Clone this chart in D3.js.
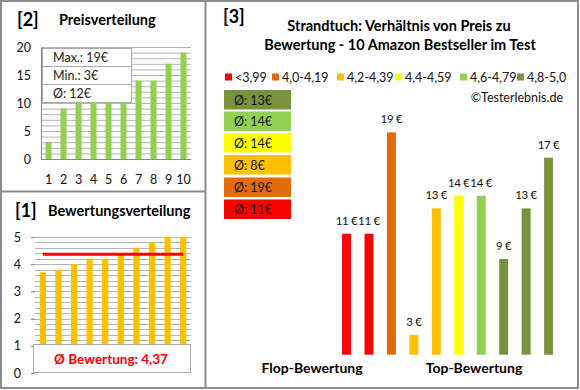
<!DOCTYPE html>
<html><head><meta charset="utf-8">
<script src="https://cdn.jsdelivr.net/npm/d3@7"></script>
<style>body{margin:0;background:#fff}svg{display:block;font-family:Lato,"Open Sans",sans-serif}</style>
</head><body><svg id="c" width="580" height="390"></svg>
<script>
// ---- data ----
const priceCats = ["1","2","3","4","5","6","7","8","9","10"];
const priceValues = [3,9,10,10,10,10,14,14,17,19];
const priceTicks = [0,5,10,15,20];
const priceInfo = ["Max.: 19€","Min.: 3€","Ø: 12€"];

const ratingCats = ["1","2","3","4","5","6","7","8","9","10"];
const ratingValues = [3.7,3.8,4.0,4.2,4.2,4.4,4.6,4.8,5.0,5.0];
const ratingTicks = [0,1,2,3,4,5];
const ratingMean = 4.37;
const ratingLabel = "Ø Bewertung: 4,37";

const mainCats = ["p1","p2","p3","p4","p5","p6","p7","p8","p9","p10"];
const mainValues = [11,11,19,3,13,14,14,9,13,17];
const mainGroups = [0,0,1,2,2,3,4,5,5,5];
const groupLabels = ["<3,99","4,0-4,19","4,2-4,39","4,4-4,59","4,6-4,79","4,8-5,0"];
const groupColors = ["#FF0000","#E36C09","#FFC000","#FFFF00","#92D050","#77933C"];
const groupAverages = ["Ø: 11€","Ø: 19€","Ø: 8€","Ø: 14€","Ø: 14€","Ø: 13€"];

const svg = d3.select("#c");
const grid = "#b4b4b4";

// ---- panel frames ----
svg.append("rect").attr("x",1).attr("y",1).attr("width",577).attr("height",387)
  .attr("fill","none").attr("stroke","#8c8c8c").attr("stroke-width",2);
svg.append("line").attr("x1",205.5).attr("x2",205.5).attr("y1",1).attr("y2",388).attr("stroke","#8c8c8c").attr("stroke-width",2);
svg.append("line").attr("x1",1).attr("x2",205).attr("y1",191.5).attr("y2",191.5).attr("stroke","#8c8c8c").attr("stroke-width",2);

// ---- panel [2] price distribution ----
svg.append("text").attr("x",17).attr("y",26).attr("font-size",18).attr("font-weight","bold").text("[2]");
svg.append("text").attr("x",59).attr("y",25).attr("font-size",14.5).attr("font-weight","bold").text("Preisverteilung");

const px = d3.scaleBand().domain(priceCats).range([41,191]).paddingInner(0.6).paddingOuter(0.3);
const py = d3.scaleLinear().domain([0,20]).range([159,47]);
const gp = svg.append("g");
gp.selectAll("line.g").data(d3.range(1,21)).join("line")
  .attr("x1",41).attr("x2",191).attr("y1",d=>py(d)+0.5).attr("y2",d=>py(d)+0.5)
  .attr("stroke",grid).attr("stroke-width",1);
gp.selectAll("rect").data(priceValues).join("rect")
  .attr("x",(d,i)=>px(priceCats[i])).attr("width",px.bandwidth())
  .attr("y",d=>py(d)).attr("height",d=>py(0)-py(d)).attr("fill","#92D050");
const pyAxis = gp.append("g").attr("transform","translate(41,0)")
  .call(d3.axisLeft(py).tickValues(priceTicks).tickSize(0).tickPadding(10));
pyAxis.select(".domain").attr("stroke","#888");
pyAxis.selectAll("text").attr("font-size",12.5).attr("font-family","Lato, sans-serif").attr("fill","#111");
const pxAxis = gp.append("g").attr("transform","translate(0,159)")
  .call(d3.axisBottom(px).tickSize(0).tickPadding(16));
pxAxis.select(".domain").attr("stroke","#888").attr("d","M41,0.5H191");
pxAxis.selectAll("text").attr("font-size",12.5).attr("font-family","Lato, sans-serif").attr("fill","#111");
// info box
const ib = gp.append("g");
ib.append("rect").attr("x",42.5).attr("y",48.5).attr("width",89).attr("height",54).attr("fill","#fff").attr("stroke","#aaa");
ib.selectAll("line").data([1,2]).join("line").attr("x1",42.5).attr("x2",131.5)
  .attr("y1",d=>48.5+d*18).attr("y2",d=>48.5+d*18).attr("stroke","#aaa");
ib.selectAll("text").data(priceInfo).join("text").attr("x",53).attr("y",(d,i)=>62+i*18)
  .attr("font-size",12.5).attr("fill","#222").text(d=>d);

// ---- panel [1] rating distribution ----
svg.append("text").attr("x",15).attr("y",217).attr("font-size",18).attr("font-weight","bold").text("[1]");
svg.append("text").attr("x",48).attr("y",216).attr("font-size",14.5).attr("font-weight","bold").text("Bewertungsverteilung");

const rx = d3.scaleBand().domain(ratingCats).range([35,191]).paddingInner(0.6).paddingOuter(0.3);
const ry = d3.scaleLinear().domain([0,5]).range([373,237]);
const gr = svg.append("g");
gr.selectAll("line.g").data(d3.range(1,26).map(d=>d/5)).join("line")
  .attr("x1",d=>Math.abs(d-Math.round(d))<1e-6?31:35).attr("x2",191)
  .attr("y1",d=>Math.round(ry(d))+0.5).attr("y2",d=>Math.round(ry(d))+0.5)
  .attr("stroke",grid).attr("stroke-width",1);
gr.selectAll("rect").data(ratingValues).join("rect")
  .attr("x",(d,i)=>rx(ratingCats[i])).attr("width",rx.bandwidth())
  .attr("y",d=>ry(d)).attr("height",d=>ry(0)-ry(d)).attr("fill","#FFC000");
const ryAxis = gr.append("g").attr("transform","translate(35,0)")
  .call(d3.axisLeft(ry).tickValues(ratingTicks).tickFormat(d3.format("d")).tickSize(4).tickPadding(10));
ryAxis.select(".domain").remove();
ryAxis.selectAll("line").attr("stroke","#888");
ryAxis.selectAll("text").attr("font-size",12.5).attr("font-family","Lato, sans-serif").attr("fill","#111");
gr.append("line").attr("x1",rx(ratingCats[0])+rx.bandwidth()/2).attr("x2",rx(ratingCats[9])+rx.bandwidth()/2)
  .attr("y1",ry(ratingMean)).attr("y2",ry(ratingMean)).attr("stroke","#FF0000").attr("stroke-width",3);
gr.append("rect").attr("x",33.5).attr("y",344.5).attr("width",157).attr("height",28).attr("fill","#fff").attr("stroke","#aaa");
gr.append("text").attr("x",111).attr("y",364).attr("text-anchor","middle").attr("font-size",13.5)
  .attr("font-weight","bold").attr("fill","#FF0000").text(ratingLabel);

// ---- panel [3] ----
svg.append("text").attr("x",223).attr("y",23).attr("font-size",18).attr("font-weight","bold").text("[3]");
svg.append("text").attr("x",399).attr("y",31).attr("text-anchor","middle").attr("font-size",14.5).attr("font-weight","bold")
  .text("Strandtuch: Verhältnis von Preis zu");
svg.append("text").attr("x",400).attr("y",50).attr("text-anchor","middle").attr("font-size",14.5).attr("font-weight","bold")
  .text("Bewertung - 10 Amazon Bestseller im Test");

// legend
const legX = [225,272,337,395,460,517];
const lg = svg.append("g");
groupLabels.forEach((l,i)=>{
  lg.append("rect").attr("x",legX[i]).attr("y",73.5).attr("width",7).attr("height",7).attr("fill",groupColors[i]);
  lg.append("text").attr("x",legX[i]+10).attr("y",81.5).attr("font-size",12.5).attr("fill","#111").text(l);
});
svg.append("text").attr("x",563).attr("y",102).attr("text-anchor","end").attr("font-size",12.5).attr("fill","#111").text("©Testerlebnis.de");

// average boxes (top to bottom: group 5..0)
const boxOrder = [5,4,3,2,1,0];
const boxY = [90,111.5,133,155,177.5,199.5];
boxOrder.forEach((g,i)=>{
  svg.append("rect").attr("x",224).attr("y",boxY[i]).attr("width",67).attr("height",19.5).attr("fill",groupColors[g]);
  svg.append("text").attr("x",234).attr("y",boxY[i]+14.5).attr("font-size",12.5).attr("fill","#111").text(groupAverages[g]);
});

const mx = d3.scaleBand().domain(mainCats).range([335.3,559.8]).paddingInner(0.6).paddingOuter(0.3);
const my = d3.scaleLinear().domain([1.45,20]).range([354.7,119.7]);
const gm = svg.append("g");
gm.selectAll("rect").data(mainValues).join("rect")
  .attr("x",(d,i)=>mx(mainCats[i])).attr("width",mx.bandwidth())
  .attr("y",d=>my(d)).attr("height",d=>my(my.domain()[0])-my(d))
  .attr("fill",(d,i)=>groupColors[mainGroups[i]]);
gm.selectAll("text").data(mainValues).join("text")
  .attr("x",(d,i)=>mx(mainCats[i])+mx.bandwidth()/2).attr("y",d=>my(d)-9)
  .attr("text-anchor","middle").attr("font-size",11.5).attr("letter-spacing",-0.3).attr("fill","#111").text(d=>d+" €");

svg.append("text").attr("x",312).attr("y",373).attr("text-anchor","middle").attr("font-size",14).attr("font-weight","bold").text("Flop-Bewertung");
svg.append("text").attr("x",474).attr("y",373).attr("text-anchor","middle").attr("font-size",14).attr("font-weight","bold").text("Top-Bewertung");
</script></body></html>
